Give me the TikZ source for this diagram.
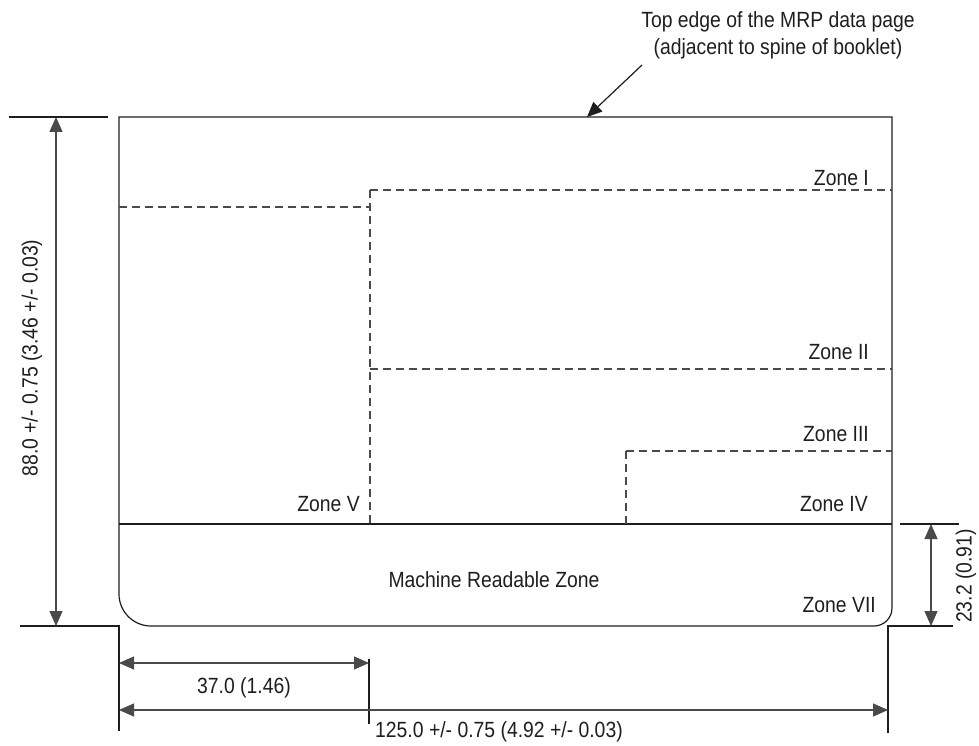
\documentclass[tikz,border=0pt]{standalone}
\usepackage{fontspec}
\setmainfont{Liberation Sans}[FakeStretch=0.88]
\usetikzlibrary{arrows.meta}
\definecolor{inkgrey}{HTML}{1E1E1E}
\definecolor{linegrey}{HTML}{4A4A4A}
\def\tip{Triangle[length=15pt,width=13pt]}
\tikzset{
  page/.style={draw=inkgrey, line width=1.2pt},
  zoneline/.style={draw=linegrey, line width=1.2pt, dash pattern=on 8pt off 5pt},
  extline/.style={draw=inkgrey, line width=1.2pt},
  dimline/.style={draw=linegrey, line width=1.1pt, {\tip}-{\tip}, fill=inkgrey},
  label/.style={inner sep=0pt, text=inkgrey, font=\fontsize{22}{27}\selectfont}
}
\begin{document}
\begin{tikzpicture}[x=1pt, y=-1pt]
\useasboundingbox (0,0) rectangle (979,746);
% page corners
\coordinate (P1) at (119,117);
\coordinate (P2) at (892,117);
\coordinate (P3) at (892,608);
\coordinate (P4) at (151,626);
\coordinate (M1) at (119,524);
\coordinate (M2) at (892,524);
\draw[page] (P1) -- (P2) -- (P3) arc[start angle=0, end angle=90, radius=18]
  -- (P4) arc[start angle=90, end angle=180, radius=32] -- cycle;
\draw[page] (M1) -- (M2);
% zone borders
\coordinate (Z1) at (119,207);
\coordinate (Z2) at (370,207);
\coordinate (Z3) at (370,190);
\coordinate (Z4) at (892,190);
\coordinate (Z5) at (370,524);
\coordinate (Z6) at (370,369);
\coordinate (Z7) at (892,369);
\coordinate (Z8) at (626,451);
\coordinate (Z9) at (892,451);
\coordinate (Z10) at (626,524);
\draw[zoneline] (Z1) -- (Z2);
\draw[zoneline] (Z3) -- (Z4);
\draw[zoneline] (Z3) -- (Z5);
\draw[zoneline] (Z6) -- (Z7);
\draw[zoneline] (Z8) -- (Z9);
\draw[zoneline] (Z8) -- (Z10);
\node[label, anchor=east] (zoneI) at (869,178) {Zone I};
\node[label, anchor=east] (zoneII) at (869,352) {Zone II};
\node[label, anchor=east] (zoneIII) at (869,434) {Zone III};
\node[label, anchor=east] (zoneIV) at (868,504) {Zone IV};
\node[label, anchor=east] (zoneV) at (360,504) {Zone V};
\node[label, anchor=east] (zoneVII) at (876,605) {Zone VII};
\node[label] (mrz) at (494,580) {Machine Readable Zone};
% extension lines
\coordinate (E1) at (9,117);
\coordinate (E2) at (108,117);
\coordinate (E3) at (20,626);
\coordinate (E4) at (119,626);
\coordinate (E5) at (119,731);
\coordinate (E6) at (953,626);
\coordinate (E7) at (888,626);
\coordinate (E8) at (888,733);
\coordinate (E9) at (900,524);
\coordinate (E10) at (959,524);
\coordinate (E11) at (369,659);
\coordinate (E12) at (369,724);
\draw[extline] (E1) -- (E2);
\draw[extline] (E3) -- (E4) -- (E5);
\draw[extline] (E6) -- (E7) -- (E8);
\draw[extline] (E9) -- (E10);
\draw[extline] (E11) -- (E12);
% dimensions
\coordinate (D1) at (56,117);
\coordinate (D2) at (56,626);
\coordinate (D3) at (931,524);
\coordinate (D4) at (931,626);
\coordinate (D5) at (119,663);
\coordinate (D6) at (369,663);
\coordinate (D7) at (119,710);
\coordinate (D8) at (888,710);
\draw[dimline] (D1) -- (D2);
\draw[dimline] (D3) -- (D4);
\draw[dimline] (D5) -- (D6);
\draw[dimline] (D7) -- (D8);
\node[label, rotate=90] (height) at (32,358) {88.0 +/- 0.75 (3.46 +/- 0.03)};
\node[label, rotate=90] (mrzheight) at (966,576) {23.2 (0.91)};
\node[label] (zonewidth) at (244,688) {37.0 (1.46)};
\node[label, anchor=west] (width) at (375,732) {125.0 +/- 0.75 (4.92 +/- 0.03)};
% top edge note
\node[label, align=center] (topnote) at (778,35) {Top edge of the MRP data page\\(adjacent to spine of booklet)};
\coordinate (A1) at (642,65);
\coordinate (A2) at (587,117);
\draw[draw=inkgrey, line width=1.2pt, -{\tip}, fill=inkgrey] (A1) -- (A2);
\end{tikzpicture}
\end{document}
